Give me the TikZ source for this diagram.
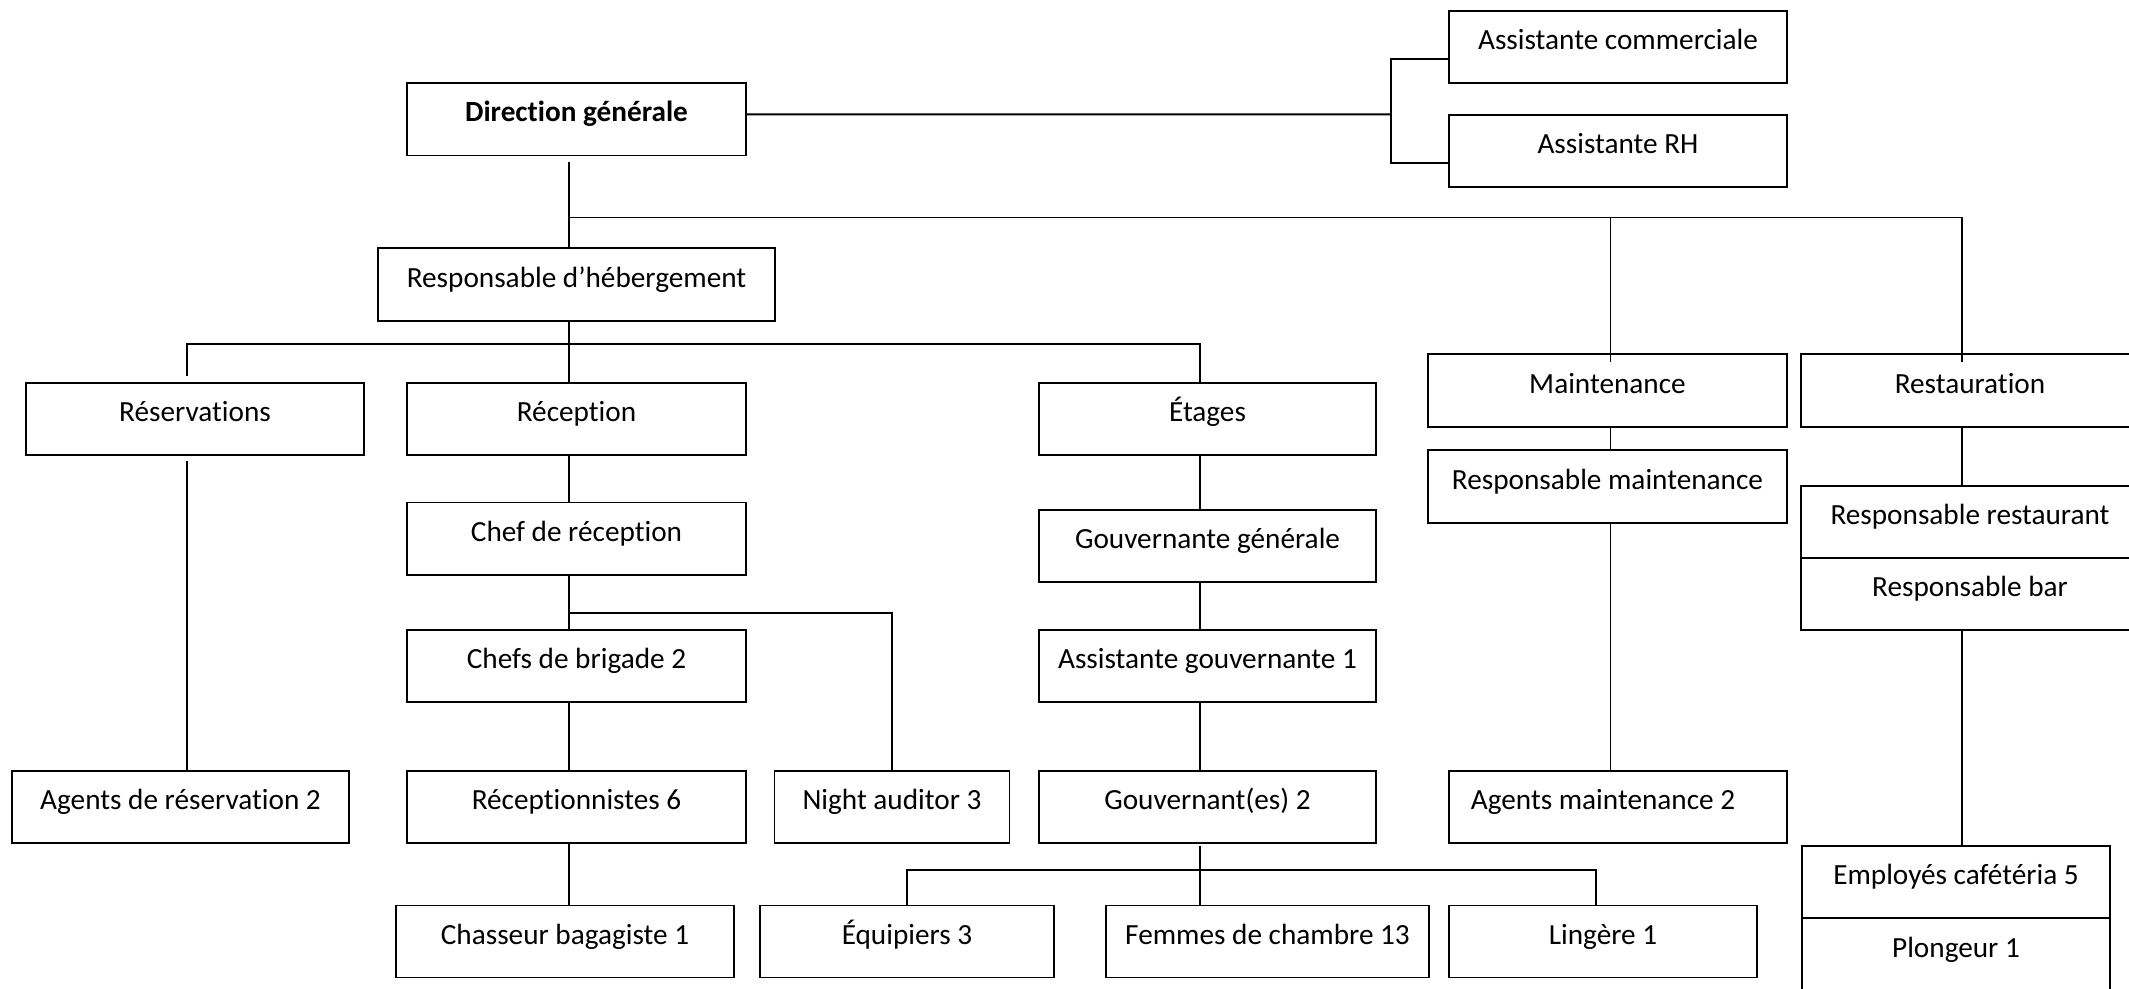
\documentclass[tikz,border=0pt]{standalone}
\usepackage{fontspec}
\setmainfont{Carlito}[Ligatures=NoCommon]
\usetikzlibrary{positioning}

\begin{document}
\begin{tikzpicture}[x=0.4pt,y=-0.4pt,
    font=\fontsize{11.7}{14}\selectfont,
    box/.style={rectangle,draw,line width=0.7pt,inner sep=0pt,outer sep=0pt,text height=9pt,text depth=7pt},
    link/.style={line width=0.55pt},
    bracket/.style={line width=0.8pt}]
  \useasboundingbox (0,0) rectangle (2129,988);
  \fill[white] (0,0) rectangle (2129,988);

  \node[box,minimum width=135.6pt,minimum height=29pt] (dg) at (576.5,119.3) {\bfseries Direction générale};
  \node[box,minimum width=135.2pt,minimum height=28.8pt] (ac) at (1618,47) {Assistante commerciale};
  \node[box,minimum width=135.2pt,minimum height=28.8pt] (arh) at (1618,151) {Assistante RH};
  \node[box,minimum width=158.8pt,minimum height=29.2pt] (rh) at (576.5,284.5) {Responsable d’hébergement};

  \node[box,minimum width=135.2pt,minimum height=28.8pt] (res) at (195,419) {Réservations};
  \node[box,minimum width=135.6pt,minimum height=28.8pt] (rec) at (576.5,419) {Réception};
  \node[box,minimum width=134.8pt,minimum height=28.8pt] (eta) at (1207.5,419) {Étages};
  \node[box,minimum width=143.6pt,minimum height=29.2pt] (mnt) at (1607.5,390.5) {Maintenance};
  \node[box,minimum width=135.2pt,minimum height=29.2pt] (rst) at (1970,390.5) {Restauration};

  \node[box,minimum width=143.6pt,minimum height=29.2pt] (rmt) at (1607.5,486.5) {Responsable maintenance};
  \node[box,minimum width=135.2pt,minimum height=28.8pt] (rrs) at (1970,522) {Responsable restaurant};
  \node[box,minimum width=135.2pt,minimum height=28.8pt,below=0pt of rrs] (rbar) {Responsable bar};

  \node[box,minimum width=135.6pt,minimum height=29pt] (cr) at (576.5,538.75) {Chef de réception};
  \node[box,minimum width=135.6pt,minimum height=28.8pt] (cb) at (576.5,666) {Chefs de brigade 2};
  \node[box,minimum width=134.8pt,minimum height=28.8pt] (gg) at (1207.5,546) {Gouvernante générale};
  \node[box,minimum width=134.8pt,minimum height=28.8pt] (ag) at (1207.5,666) {Assistante gouvernante 1};

  \node[box,minimum width=134.8pt,minimum height=28.8pt] (ar) at (180.5,807) {Agents de réservation 2};
  \node[box,minimum width=135.6pt,minimum height=28.8pt] (rcp) at (576.5,807) {Réceptionnistes 6};
  \node[box,minimum width=94pt,minimum height=28.8pt] (na) at (892,807) {Night auditor 3};
  \node[box,minimum width=134.8pt,minimum height=28.8pt] (gv) at (1207.5,807) {Gouvernant(es) 2};
  \node[box,minimum width=135.2pt,minimum height=28.8pt] (am) at (1618,807) {Agents maintenance 2\hspace*{12pt}};

  \node[box,minimum width=135.2pt,minimum height=28.8pt] (cbg) at (565,941.5) {Chasseur bagagiste 1};
  \node[box,minimum width=117.6pt,minimum height=28.8pt] (eq) at (907,941.5) {Équipiers 3};
  \node[box,minimum width=129.2pt,minimum height=28.8pt] (fc) at (1267.5,941.5) {Femmes de chambre 13};
  \node[box,minimum width=123.2pt,minimum height=28.8pt] (lg) at (1603,941.5) {Lingère 1};
  \node[box,minimum width=123.2pt,minimum height=28.8pt] (emp) at (1956,882) {Employés cafétéria 5};
  \node[box,minimum width=123.2pt,minimum height=29.6pt,below=0pt of emp] (plg) {Plongeur 1};

  % direction
  \coordinate (brk) at (1391,114.3);
  \draw[bracket] ([yshift=2pt]dg.east) -- (brk);
  \draw[bracket] ([yshift=-4.8pt]ac.west) -| (brk) |- ([yshift=-4.8pt]arh.west);
  \coordinate (j1) at (569,217.3);
  \draw[link,shorten <=2.6pt] ([xshift=-3pt]dg.south) -- ([xshift=-3pt]rh.north);
  \draw[link] (j1) -| ([xshift=1.2pt,yshift=-3.2pt]mnt.north);
  \draw[link] (j1) -| ([xshift=-3.2pt,yshift=-3.2pt]rst.north);

  % hebergement
  \coordinate (j2) at (569,344);
  \draw[link] ([xshift=-3pt]rh.south) -- ([xshift=-3pt]rec.north);
  \draw[link,shorten >=2.8pt] (j2) -| ([xshift=-3.2pt]res.north);
  \draw[link] (j2) -| ([xshift=-3pt]eta.north);
  \draw[link,shorten <=2.4pt] ([xshift=-3.2pt]res.south) -- ([xshift=-3.2pt]res.south |- ar.north);

  % reception
  \draw[link] ([xshift=-3pt]rec.south) -- ([xshift=-3pt]cr.north);
  \draw[link] ([xshift=-3pt]cr.south) -- ([xshift=-3pt]cb.north);
  \coordinate (j3) at (569,613);
  \draw[link] (j3) -| (na.north);
  \draw[link] ([xshift=-3pt]cb.south) -- ([xshift=-3pt]rcp.north);
  \draw[link] ([xshift=-3pt]rcp.south) -- ([xshift=-3pt]rcp.south |- cbg.north);

  % etages
  \draw[link] ([xshift=-3pt]eta.south) -- ([xshift=-3pt]gg.north);
  \draw[link] ([xshift=-3pt]gg.south) -- ([xshift=-3pt]ag.north);
  \draw[link] ([xshift=-3pt]ag.south) -- ([xshift=-3pt]gv.north);
  \coordinate (j4) at (1200,870);
  \draw[link,shorten <=1pt] ([xshift=-3pt]gv.south) -- ([xshift=-3pt]gv.south |- fc.north);
  \draw[link] (j4) -| (eq.north);
  \draw[link] (j4) -| ([xshift=-2.8pt]lg.north);

  % maintenance et restauration
  \draw[link] ([xshift=1.2pt]mnt.south) -- ([xshift=1.2pt]rmt.north);
  \draw[link] ([xshift=1.2pt]rmt.south) -- ([xshift=1.2pt]rmt.south |- am.north);
  \draw[link] ([xshift=-3.2pt]rst.south) -- ([xshift=-3.2pt]rrs.north);
  \draw[link] ([xshift=-3.2pt]rbar.south) -- ([xshift=-3.2pt]rbar.south |- emp.north);
\end{tikzpicture}
\end{document}
